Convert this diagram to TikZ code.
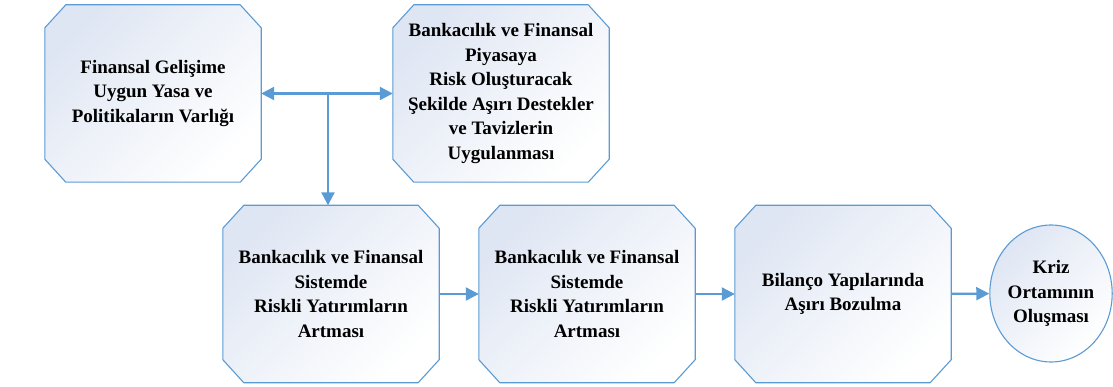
\documentclass[tikz,border=0pt]{standalone}
\usepackage{fontspec}
\setmainfont{Liberation Serif}
\usetikzlibrary{shapes.geometric,arrows.meta,backgrounds}
\definecolor{edgeblue}{HTML}{5B9BD5}
\definecolor{fillblue}{HTML}{DFE6F3}
\tikzset{
  box/.style={rectangle, minimum width=216pt, minimum height=177pt,
    inner sep=0pt, align=center, font=\bfseries\fontsize{19}{24.5}\selectfont},
  boxshape/.style={draw=edgeblue, line width=1.1pt, top color=fillblue, bottom color=white, shading angle=45},
  endnode/.style={ellipse, draw=edgeblue, line width=1.1pt, minimum width=122pt, minimum height=137pt,
    inner sep=0pt, align=center, font=\bfseries\fontsize{19}{24.5}\selectfont,
    top color=fillblue, bottom color=white, shading angle=45},
  conn/.style={draw=edgeblue, line width=2.2pt, >={Triangle[length=13pt,width=13pt]}, ->},
}
\newcommand{\chamf}[1]{%
  \path[boxshape] ([xshift=21pt]#1.north west) -- ([xshift=-21pt]#1.north east)
    -- ([yshift=-23pt]#1.north east) -- ([yshift=23pt]#1.south east)
    -- ([xshift=-21pt]#1.south east) -- ([xshift=21pt]#1.south west)
    -- ([yshift=23pt]#1.south west) -- ([yshift=-23pt]#1.north west) -- cycle;}
\begin{document}
\begin{tikzpicture}[x=1pt,y=-1pt]
\useasboundingbox (0,0) rectangle (1113,387);
\node[box] (a) at (153,93.5) {Finansal Gelişime\\Uygun Yasa ve\\Politikaların Varlığı};
\node[box] (b) at (501,93.5) {Bankacılık ve Finansal\\Piyasaya\\Risk Oluşturacak\\Şekilde Aşırı Destekler\\ve Tavizlerin\\Uygulanması};
\node[box] (c) at (331,294) {Bankacılık ve Finansal\\Sistemde\\Riskli Yatırımların\\Artması};
\node[box] (d) at (587,294) {Bankacılık ve Finansal\\Sistemde\\Riskli Yatırımların\\Artması};
\node[box] (e) at (843,294) {Bilanço Yapılarında\\Aşırı Bozulma};
\node[endnode] (f) at (1051,293.5) {Kriz\\Ortamının\\Oluşması};
\begin{scope}[on background layer]
\chamf{a}\chamf{b}\chamf{c}\chamf{d}\chamf{e}
\end{scope}
\coordinate (j) at (328,93.5);
\draw[conn, <->] (a.east) -- (b.west);
\draw[conn] (j) -- (j |- c.north);
\draw[conn] (c) -- (d);
\draw[conn] (d) -- (e);
\draw[conn] (e) -- (f);
\end{tikzpicture}
\end{document}
